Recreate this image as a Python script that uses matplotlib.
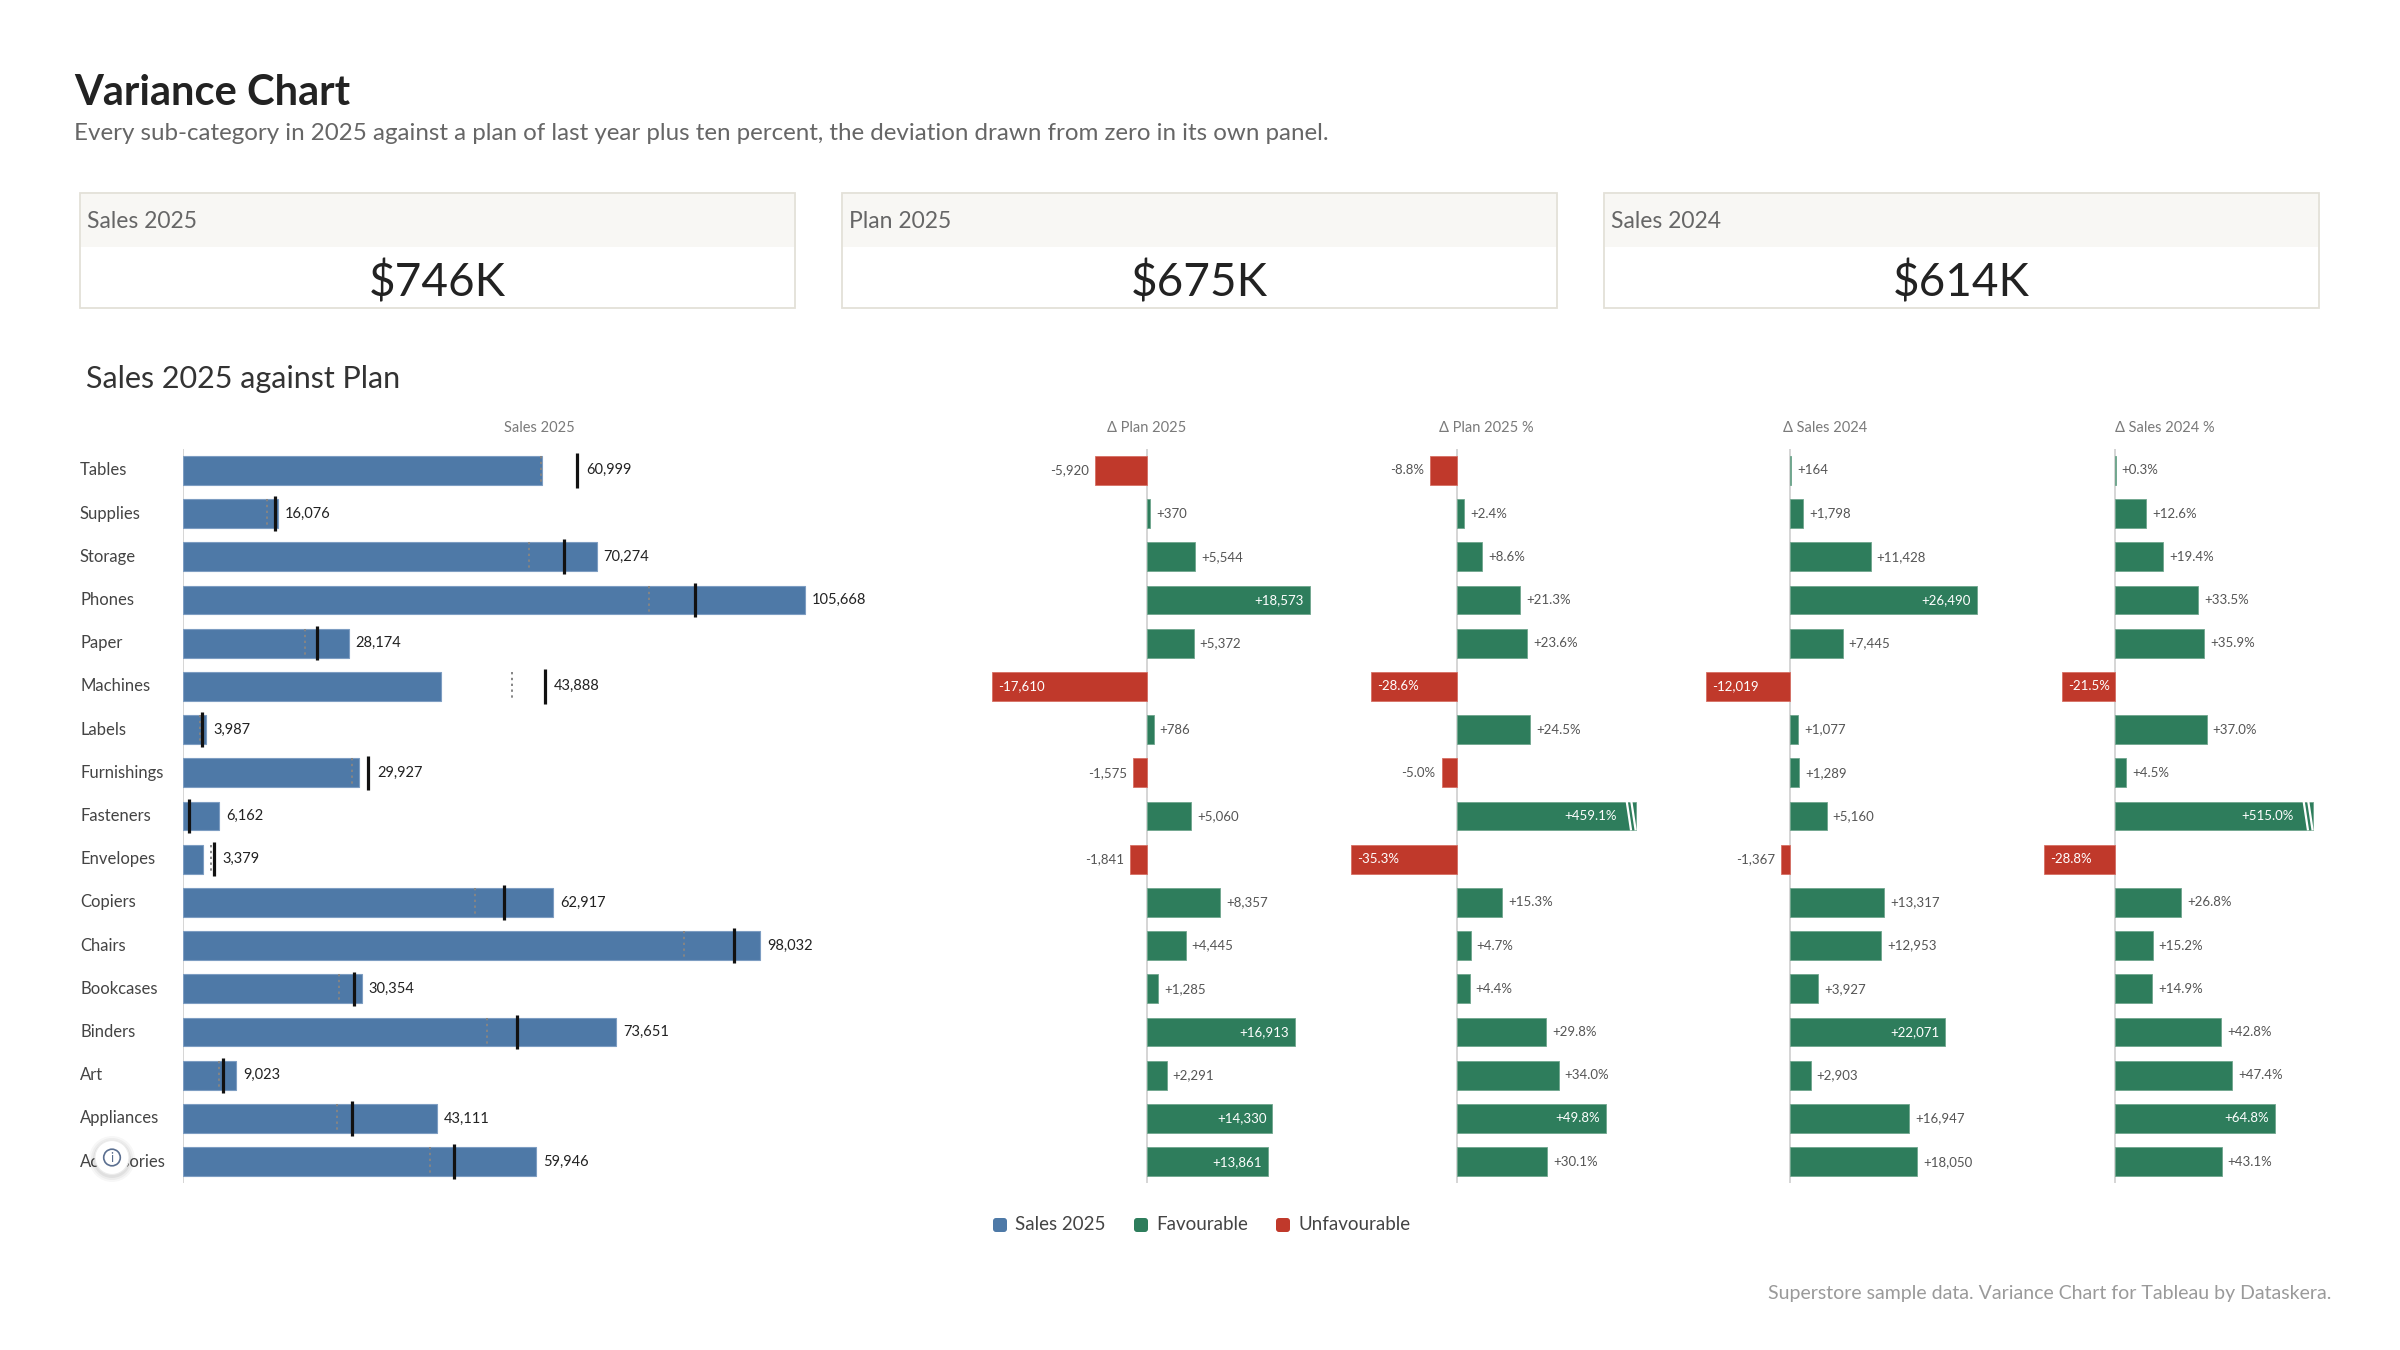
import numpy as np
import matplotlib
matplotlib.use('Agg')
import matplotlib.pyplot as plt
from matplotlib.patches import Rectangle, FancyBboxPatch, Circle
from matplotlib.transforms import blended_transform_factory

plt.rcParams['font.family'] = ['Lato', 'DejaVu Sans']

# === DATA ===
categories = ['Tables', 'Supplies', 'Storage', 'Phones', 'Paper', 'Machines', 'Labels',
              'Furnishings', 'Fasteners', 'Envelopes', 'Copiers', 'Chairs', 'Bookcases',
              'Binders', 'Art', 'Appliances', 'Accessories']
sales_2025 = [60999, 16076, 70274, 105668, 28174, 43888, 3987, 29927, 6162, 3379,
              62917, 98032, 30354, 73651, 9023, 43111, 59946]
delta_plan = [-5920, 370, 5544, 18573, 5372, -17610, 786, -1575, 5060, -1841,
              8357, 4445, 1285, 16913, 2291, 14330, 13861]
delta_plan_pct = [-8.8, 2.4, 8.6, 21.3, 23.6, -28.6, 24.5, -5.0, 459.1, -35.3,
                  15.3, 4.7, 4.4, 29.8, 34.0, 49.8, 30.1]
delta_sales_2024 = [164, 1798, 11428, 26490, 7445, -12019, 1077, 1289, 5160, -1367,
                    13317, 12953, 3927, 22071, 2903, 16947, 18050]
delta_sales_2024_pct = [0.3, 12.6, 19.4, 33.5, 35.9, -21.5, 37.0, 4.5, 515.0, -28.8,
                        26.8, 15.2, 14.9, 42.8, 47.4, 64.8, 43.1]

kpi_labels = ['Sales 2025', 'Plan 2025', 'Sales 2024']
legend_labels = ['Sales 2025', 'Favourable', 'Unfavourable']

sales = np.array(sales_2025, dtype=float)
plan_2025 = sales - np.array(delta_plan)          # plan = last year + 10%
sales_2024 = sales - np.array(delta_sales_2024)
kpi_values = [sales.sum(), plan_2025.sum(), sales_2024.sum()]

# === STYLE ===
BLUE, GREEN, RED = '#4E79A7', '#2E7D5C', '#C0392B'
EDGE = {BLUE: '#7d9dc2', GREEN: '#6fa68d', RED: '#d66f64'}
W, H = 2400, 1350
ROW_TOP, ROW_BOTTOM = 448.7, 1183.3
BAR_H = 0.665

fig = plt.figure(figsize=(24, 13.5), dpi=100, facecolor='white')
y = np.arange(len(categories))


def px_axes(left, right):
    ax = fig.add_axes([left / W, 1 - ROW_BOTTOM / H, (right - left) / W,
                       (ROW_BOTTOM - ROW_TOP) / H])
    ax.set_ylim(len(categories) - 0.5, -0.5)
    ax.axis('off')
    ax.axvline(0, color='#d2d2d2', lw=1.3, zorder=1)
    return ax


def header(ax, text):
    ax.annotate(text, xy=(0.5, 1), xycoords='axes fraction', xytext=(0, 20.7),
                textcoords='offset pixels', ha='center', va='center',
                fontsize=10.5, color='#7a7a7a')


# === SALES 2025 PANEL ===
ax = px_axes(183, 895)
ax.set_xlim(0, 121000)
ax.barh(y, sales, height=BAR_H, color=BLUE, edgecolor=EDGE[BLUE], linewidth=0.8, zorder=2)
ax.vlines(sales_2024, y - BAR_H / 2, y + BAR_H / 2, colors='#858585',
          linestyles=(0, (1.2, 1.8)), lw=1.4, zorder=3)
ax.vlines(plan_2025, y - 0.40, y + 0.40, colors='#111111', lw=2.3, zorder=4)
for i, (s, p) in enumerate(zip(sales, plan_2025)):
    ax.annotate(f'{s:,.0f}', xy=(max(s, p), i), xytext=(9 if p > s else 7, 0),
                textcoords='offset pixels', ha='left', va='center',
                fontsize=10.5, color='#222222')
header(ax, 'Sales 2025')

# category labels, left aligned on the page margin
lab_tr = blended_transform_factory(fig.transFigure, ax.transData)
for i, c in enumerate(categories):
    ax.text(80 / W, i, c, transform=lab_tr, ha='left', va='center',
            fontsize=12, color='#444444')


# === VARIANCE PANELS ===
def delta_panel(left, right, xlim, values, title, fmt, clip=False):
    ax = px_axes(left, right)
    ax.set_xlim(*xlim)
    upp = (xlim[1] - xlim[0]) / (right - left)   # data units per pixel
    vals = np.array(values, dtype=float)
    cap = 0.9 * xlim[1] if clip else np.inf
    shown = np.minimum(vals, cap)
    colors = [GREEN if v >= 0 else RED for v in vals]
    ax.barh(y, shown, height=BAR_H, color=colors,
            edgecolor=[EDGE[c] for c in colors], linewidth=0.6, zorder=2)

    # break marks on bars that run past the panel
    for i in np.where(vals > cap)[0]:
        for d in (9.3, 4.7):
            ax.plot([cap - d * upp, cap - (d - 4.3) * upp],
                    [i - BAR_H / 2, i + BAR_H / 2], color='white', lw=1.6,
                    solid_capstyle='butt', zorder=4)

    pos_max = np.abs(shown[shown >= 0]).max()
    neg_max = np.abs(shown[shown < 0]).max()
    for i, (v, s) in enumerate(zip(vals, shown)):
        inside = abs(s) >= 0.7 * (pos_max if v >= 0 else neg_max)
        if v >= 0:
            if inside:
                off, ha = (-19 if v > cap else -6), 'right'
            else:
                off, ha = 6, 'left'
        else:
            off, ha = (6, 'left') if inside else (-6, 'right')
        ax.annotate(fmt(v), xy=(s, i), xytext=(off, 0), textcoords='offset pixels',
                    ha=ha, va='center', fontsize=9.5,
                    color='white' if inside else '#555555', zorder=5)
    header(ax, title)


delta_panel(977, 1317, (-19320, 19410), delta_plan, 'Δ Plan 2025',
            lambda v: f'{v:+,.0f}')
delta_panel(1316, 1656, (-46.9, 66.5), delta_plan_pct, 'Δ Plan 2025 %',
            lambda v: f'{v:+.1f}%', clip=True)
delta_panel(1655, 1995, (-19250, 29120), delta_sales_2024, 'Δ Sales 2024',
            lambda v: f'{v:+,.0f}')
delta_panel(1995, 2335, (-48.5, 88.9), delta_sales_2024_pct, 'Δ Sales 2024 %',
            lambda v: f'{v:+.1f}%', clip=True)

# === PAGE FURNITURE (pixel coordinates) ===
ov = fig.add_axes([0, 0, 1, 1])
ov.set_xlim(0, W)
ov.set_ylim(H, 0)
ov.axis('off')
ov.patch.set_alpha(0)

ov.text(74, 105, 'Variance Chart', fontsize=30, fontweight='bold', color='#222222',
        va='baseline')
ov.text(74, 140, 'Every sub-category in 2025 against a plan of last year plus ten percent, '
        'the deviation drawn from zero in its own panel.',
        fontsize=17.4, color='#666666', va='baseline')

# KPI cards
for k, (lab, val) in enumerate(zip(kpi_labels, kpi_values)):
    left = 80 + k * 762
    ov.add_patch(Rectangle((left, 193), 715, 115, facecolor='white',
                           edgecolor='#e3e0d8', lw=1.3))
    ov.add_patch(Rectangle((left + 1, 194), 713, 53, facecolor='#f8f7f4',
                           edgecolor='none'))
    ov.text(left + 7, 228, lab, fontsize=16.5, color='#666666', va='baseline')
    ov.text(left + 357.5, 296, f'${val / 1000:.0f}K', fontsize=33, color='#222222',
            ha='center', va='baseline')

ov.text(86, 388, 'Sales 2025 against Plan', fontsize=22, color='#333333',
        va='baseline')

# legend
for x0, lab, col in zip([993, 1134, 1276], legend_labels, [BLUE, GREEN, RED]):
    ov.add_patch(FancyBboxPatch((x0, 1218), 14, 14,
                                boxstyle='round,pad=0,rounding_size=3',
                                facecolor=col, edgecolor='none'))
    ov.text(x0 + 22, 1225, lab, fontsize=13.5, color='#444444', va='center')

ov.text(2331, 1294, 'Superstore sample data. Variance Chart for Tableau by Dataskera.',
        fontsize=14, color='#9a9a9a', ha='right', va='center')

# info button overlay
for r, a in [(23, 0.03), (21, 0.04), (19, 0.05)]:
    ov.add_patch(Circle((112, 1159), r, facecolor='#000000', alpha=a, edgecolor='none'))
ov.add_patch(Circle((112, 1157.5), 17, facecolor='white', edgecolor='#ececec', lw=0.8))
ov.add_patch(Circle((112, 1157.5), 8.3, fill=False, edgecolor='#5b6f90', lw=1.2))
ov.text(112, 1158, 'i', fontsize=9, color='#5b6f90', ha='center', va='center')

fig.savefig('out.png', dpi=100, facecolor='white')
